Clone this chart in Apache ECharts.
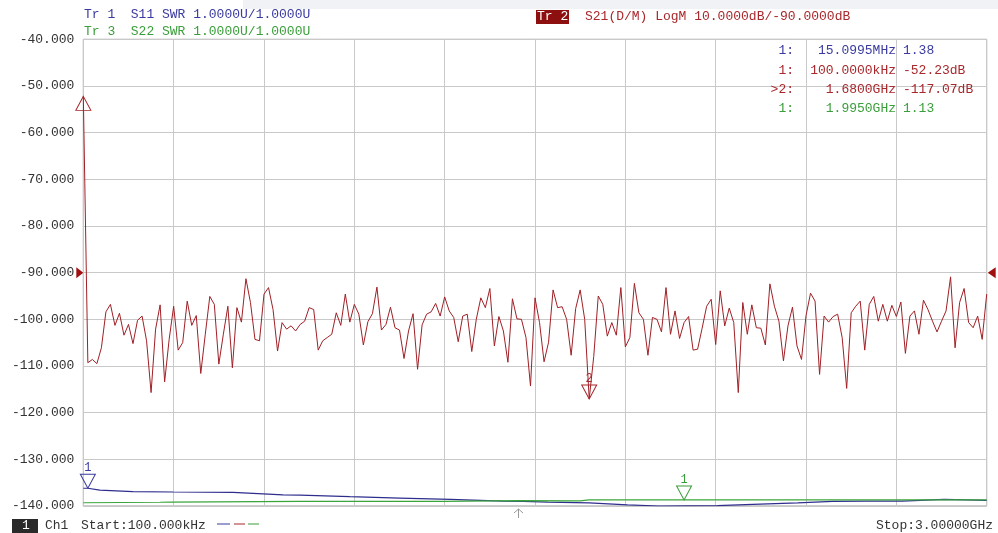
<!DOCTYPE html>
<html>
<head>
<meta charset="utf-8">
<script src="https://cdn.jsdelivr.net/npm/echarts@6/dist/echarts.min.js"></script>
<style>html,body{margin:0;padding:0;background:#fff;}#c{width:998px;height:533px;}</style>
</head>
<body>
<div id="c"></div>
<script>
// ---- Data ----
const freqStartMHz = 0.1;
const freqStopMHz = 3000;
// Tr2 S21 LogM (dB), 201 sweep points
const s21dB = [
-52.23,-109.3,-108.6,-109.5,-106.1,-98.4,-96.8,-101.3,-98.7,-103.4,
-101.1,-105.2,-100.2,-99.3,-104.6,-115.7,-102.1,-96.9,-113.4,-104.3,
-97.2,-106.6,-105.0,-96.1,-101.3,-99.2,-111.6,-103.2,-95.1,-96.8,
-109.6,-103.2,-97.2,-110.4,-97.5,-100.6,-91.3,-96.4,-104.3,-104.6,
-94.6,-93.2,-97.9,-106.8,-100.7,-102.1,-101.4,-102.5,-101.1,-100.4,
-97.5,-97.9,-106.6,-104.6,-103.9,-103.2,-98.6,-101.3,-94.6,-100.6,
-96.8,-98.9,-105.5,-100.5,-98.8,-93.1,-102.3,-101.1,-97.4,-101.8,
-102.3,-108.4,-102.5,-98.8,-110.7,-101.2,-98.9,-98.4,-96.6,-99.3,
-95.2,-98.2,-99.6,-104.8,-99.3,-98.9,-106.9,-100.0,-95.4,-97.5,
-93.4,-105.7,-99.4,-102.5,-109.2,-95.6,-99.9,-100.0,-103.9,-114.3,
-95.4,-100.7,-109.1,-104.9,-93.7,-97.5,-97.3,-100.0,-107.7,-97.7,
-93.7,-100.0,-117.07,-108.0,-95.0,-96.8,-103.6,-100.7,-103.4,-93.2,
-105.9,-103.9,-92.3,-98.6,-100.0,-107.7,-99.6,-100.0,-102.7,-93.2,
-103.2,-98.2,-104.1,-100.7,-99.4,-106.6,-106.4,-101.9,-97.2,-95.7,
-105.4,-93.9,-101.4,-97.6,-100.7,-115.7,-96.4,-103.2,-96.9,-101.8,
-101.9,-105.5,-92.4,-97.2,-100.4,-108.9,-101.4,-97.4,-105.7,-108.6,
-99.2,-94.4,-96.1,-111.8,-99.3,-100.6,-99.4,-98.9,-103.9,-114.8,
-98.6,-97.2,-96.1,-106.6,-96.8,-95.1,-100.4,-96.8,-100.4,-97.0,
-99.4,-96.3,-107.3,-99.3,-98.2,-103.2,-95.9,-97.9,-100.4,-102.7,
-100.4,-98.2,-90.9,-106.1,-96.4,-93.4,-100.7,-101.8,-99.3,-104.3,
-94.6
];
// Tr1 S11 SWR read points [MHz, SWR]
const s11Freq = [0.1,15.1,55,165,298,497,597,663,720,885,1050,1220,1393,1462,1543,1680,1807,1912,2106,2199,2372,2488,2604,2720,2859,3000];
const s11SWR  = [1.38,1.38,1.34,1.31,1.30,1.29,1.26,1.24,1.235,1.20,1.17,1.14,1.105,1.097,1.082,1.067,1.022,1.0,1.007,1.03,1.067,1.097,1.105,1.105,1.14,1.12];
// Tr3 S22 SWR read points [MHz, SWR]
const s22Freq = [0.1,255,290,720,1200,1440,1650,1680,1995,3000];
const s22SWR  = [1.07,1.08,1.085,1.10,1.10,1.115,1.11,1.13,1.13,1.13];
// Y tick labels (dB)
const yMin = -140, yMax = -40, yStep = 10;
// Markers
const markers = [
  {id:'1:',  freqText:'15.0995MHz',  valText:'1.38',      trace:'s11', f:15.0995, v:1.38,   label:'1'},
  {id:'1:',  freqText:'100.0000kHz', valText:'-52.23dB',  trace:'s21', f:0.1,     v:-52.23, label:''},
  {id:'>2:', freqText:'1.6800GHz',   valText:'-117.07dB', trace:'s21', f:1680,    v:-117.07,label:'2'},
  {id:'1:',  freqText:'1.9950GHz',   valText:'1.13',      trace:'s22', f:1995,    v:1.13,   label:'1'}
];

// ---- Styles ----
const BLUE = '#2e2e8e', RED = '#a02026', GREEN = '#3ba53b';
const BLUE_T = '#3a3aa0', RED_T = '#a8282c', GREEN_T = '#3a9e3a';
const FONT = 'Liberation Mono, DejaVu Sans Mono, monospace';
const colorOf = {s11: BLUE_T, s21: RED_T, s22: GREEN_T};

const nPts = s21dB.length;
const step = (freqStopMHz - freqStartMHz) / (nPts - 1);
const s21Data = s21dB.map((v, i) => [freqStartMHz + i * step, v]);
const s11Data = s11Freq.map((f, i) => [f, s11SWR[i]]);
const s22Data = s22Freq.map((f, i) => [f, s22SWR[i]]);

const DOWN = 'path://M0,0L20,0L10,19Z';
const UP = 'path://M10,0L20,19L0,19Z';
function mk(m) {
  const up = m.label === '';
  return {
    coord: [m.f, m.v],
    symbol: up ? UP : DOWN,
    symbolSize: [15, 14],
    symbolOffset: [0, up ? '50%' : '-50%'],
    itemStyle: {color: 'rgba(255,255,255,0)', borderColor: colorOf[m.trace], borderWidth: 1},
    label: {show: !!m.label, formatter: m.label, position: 'top', distance: 0,
            color: colorOf[m.trace], fontFamily: FONT, fontSize: 12}
  };
}
const mpFor = t => markers.filter(m => m.trace === t).map(mk);

const refMarks = [
  {coord: [0, -90], symbol: 'path://M0,0L20,10L0,20Z', symbolSize: [7, 11], symbolOffset: [-3.5, 0],
   itemStyle: {color: '#a01010'}, label: {show: false}},
  {coord: [3000, -90], symbol: 'path://M20,0L0,10L20,20Z', symbolSize: [8, 11], symbolOffset: [5, 0],
   itemStyle: {color: '#a01010'}, label: {show: false}}
];

function txt(x, y, text, fill, align, size) {
  return {type: 'text', silent: true, z: 100,
    style: {x: x, y: y, text: text, fill: fill, font: (size || 13) + 'px ' + FONT,
      align: align || 'left', textAlign: align || 'left', verticalAlign: 'middle', textVerticalAlign: 'middle'}};
}

const graphics = [
  {type: 'rect', silent: true, z: 0, shape: {x: 243, y: 0, width: 755, height: 9}, style: {fill: '#f1f2f5'}},
  txt(84, 15, 'Tr 1  S11 SWR 1.0000U/1.0000U', BLUE_T),
  txt(84, 32, 'Tr 3  S22 SWR 1.0000U/1.0000U', GREEN_T),
  {type: 'rect', silent: true, z: 99, shape: {x: 536, y: 10, width: 33, height: 14}, style: {fill: '#8e0f0f'}},
  txt(537, 17, 'Tr 2', '#ffffff'),
  txt(585, 17, 'S21(D/M) LogM 10.0000dB/-90.0000dB', RED_T),
  {type: 'rect', silent: true, z: 99, shape: {x: 12, y: 519, width: 26, height: 14}, style: {fill: '#2a2a2a'}},
  txt(22, 526, '1', '#ffffff'),
  txt(45, 526, 'Ch1', '#333333'),
  txt(81, 526, 'Start:100.000kHz', '#333333'),
  {type: 'line', silent: true, z: 99, shape: {x1: 217, y1: 524, x2: 230, y2: 524}, style: {stroke: BLUE_T, lineWidth: 1}},
  {type: 'line', silent: true, z: 99, shape: {x1: 234, y1: 524, x2: 245, y2: 524}, style: {stroke: RED_T, lineWidth: 1}},
  {type: 'line', silent: true, z: 99, shape: {x1: 248, y1: 524, x2: 259, y2: 524}, style: {stroke: GREEN_T, lineWidth: 1}},
  txt(993, 526, 'Stop:3.00000GHz', '#333333', 'right'),
  {type: 'polyline', silent: true, z: 99, shape: {points: [[514, 513], [518.5, 509], [523, 513]]}, style: {stroke: '#999', fill: null, lineWidth: 1}},
  {type: 'line', silent: true, z: 99, shape: {x1: 518.5, y1: 509, x2: 518.5, y2: 518}, style: {stroke: '#999', lineWidth: 1}}
];
const rowY = [51, 71, 90, 109];
markers.forEach((m, i) => {
  const c = colorOf[m.trace];
  graphics.push(txt(794, rowY[i], m.id, c, 'right'));
  graphics.push(txt(896, rowY[i], m.freqText, c, 'right'));
  graphics.push(txt(903, rowY[i], m.valText, c, 'left'));
});

const chart = echarts.init(document.getElementById('c'), null, {renderer: 'canvas'});
chart.setOption({
  animation: false,
  backgroundColor: '#ffffff',
  grid: {left: 83.3, top: 39.3, width: 903.4, height: 466.7, show: true, borderColor: '#9a9a9a', borderWidth: 1, containLabel: false},
  xAxis: {type: 'value', min: 0, max: freqStopMHz, interval: 300,
    axisLine: {show: false}, axisTick: {show: false}, axisLabel: {show: false},
    splitLine: {show: true, lineStyle: {color: '#c9c9c9', width: 1}}},
  yAxis: [
    {type: 'value', min: yMin, max: yMax, interval: yStep,
      axisLine: {show: false}, axisTick: {show: false},
      axisLabel: {show: true, margin: 9, color: '#333333', fontFamily: FONT, fontSize: 13,
        padding: [6, 0, 0, 0], formatter: v => v.toFixed(3)},
      splitLine: {show: true, lineStyle: {color: '#c9c9c9', width: 1}}},
    {type: 'value', min: 1, max: 11, show: false, splitLine: {show: false}}
  ],
  series: [
    {type: 'line', name: 'S21', data: s21Data, yAxisIndex: 0, showSymbol: false, symbol: 'none',
      lineStyle: {color: RED, width: 1}, itemStyle: {color: RED}, z: 3,
      markPoint: {data: mpFor('s21').concat(refMarks), animation: false}},
    {type: 'line', name: 'S11', data: s11Data, yAxisIndex: 1, showSymbol: false, symbol: 'none',
      lineStyle: {color: BLUE, width: 1.2}, itemStyle: {color: BLUE}, z: 2,
      markPoint: {data: mpFor('s11'), animation: false}},
    {type: 'line', name: 'S22', data: s22Data, yAxisIndex: 1, showSymbol: false, symbol: 'none',
      lineStyle: {color: GREEN, width: 1.2}, itemStyle: {color: GREEN}, z: 2,
      markPoint: {data: mpFor('s22'), animation: false}}
  ],
  graphic: graphics
});
</script>
</body>
</html>
